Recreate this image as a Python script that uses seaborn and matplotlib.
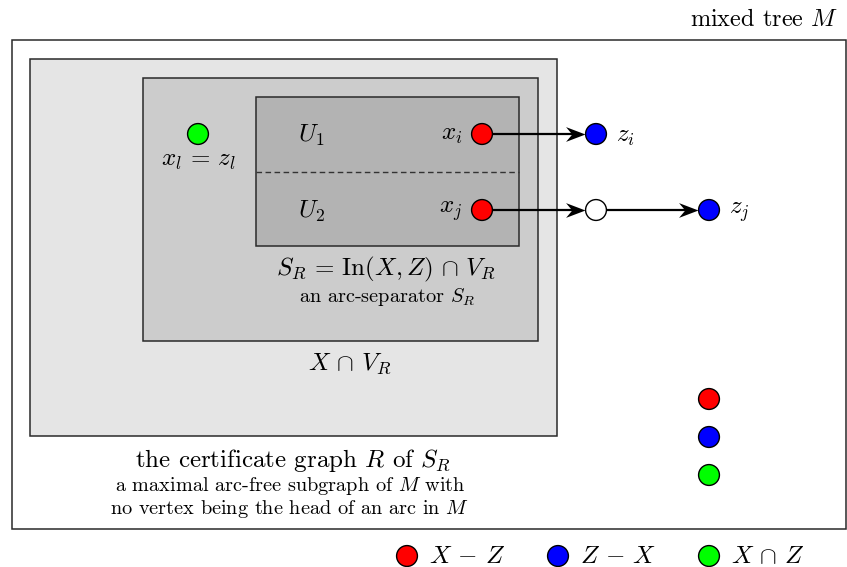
import matplotlib
matplotlib.use("Agg")
import matplotlib.pyplot as plt
import seaborn as sns
import pandas as pd
from matplotlib.patches import Rectangle
from matplotlib.path import Path

# 图中的各部分（像素坐标，y 向下）
box_names = ["mixed tree", "certificate R", "X cap V_R", "S_R"]
box_x0 = [12, 30, 143, 256]
box_y0 = [40, 59, 78, 97]
box_x1 = [846, 557, 538, 519]
box_y1 = [529, 436, 341, 246]
box_fill = ["white", "#e5e5e5", "#cccccc", "#b3b3b3"]

node_names = ["x_l", "x_i", "x_j", "z_i", "w", "z_j", "k1", "k2", "k3", "l1", "l2", "l3"]
node_x = [198, 482, 482, 596, 596, 709, 709, 709, 709, 407, 558, 709]
node_y = [134, 134, 210, 134, 210, 210, 399, 437, 475, 556, 556, 556]
node_kind = ["XZ", "X-Z", "X-Z", "Z-X", "other", "Z-X", "X-Z", "Z-X", "XZ", "X-Z", "Z-X", "XZ"]
kind_color = {"X-Z": "#ff0000", "Z-X": "#0000ff", "XZ": "#00ff00", "other": "white"}

arcs = [("x_i", "z_i"), ("x_j", "w"), ("w", "z_j")]

legend_labels = ["$X\\,-\\,Z$", "$Z\\,-\\,X$", "$X\\,\\cap\\, Z$"]

sns.set_theme(style="white")
plt.rcParams["font.family"] = ["serif"]
plt.rcParams["font.serif"] = ["cmr10", "DejaVu Serif"]
plt.rcParams["mathtext.fontset"] = "cm"
plt.rcParams["axes.unicode_minus"] = False
plt.rcParams["axes.formatter.use_mathtext"] = True
plt.rcParams["text.color"] = "black"

fig = plt.figure(figsize=(8.47, 5.67), dpi=100)
ax = fig.add_axes([0, 0, 1, 1])

for x0, y0, x1, y1, fc in zip(box_x0, box_y0, box_x1, box_y1, box_fill):
    ax.add_patch(Rectangle((x0, y0), x1 - x0, y1 - y0, facecolor=fc,
                           edgecolor="#2a2a2a", lw=1.1, zorder=1))

# U1 / U2 分隔虚线
ax.plot([box_x0[3], box_x1[3]], [172, 172], ls=(0, (4, 2.5)), color="#333333", lw=1.0, zorder=2)

df = pd.DataFrame({"name": node_names, "x": node_x, "y": node_y, "kind": node_kind})
pos = {n: (x, y) for n, x, y in zip(node_names, node_x, node_y)}

# stealth 箭头形状，尖端在原点
stealth = Path([(0, 0), (-1, 0.38), (-0.68, 0), (-1, -0.38), (0, 0)],
               [Path.MOVETO, Path.LINETO, Path.LINETO, Path.LINETO, Path.CLOSEPOLY])
r = 11
for a, b in arcs:
    (xa, ya), (xb, yb) = pos[a], pos[b]
    ax.plot([xa + r, xb - r - 8], [ya, yb], color="black", lw=1.6, zorder=3,
            solid_capstyle="butt")
    ax.plot([xb - r - 0.5], [yb], marker=stealth, markersize=28, color="black",
            markeredgewidth=0, zorder=3)

sns.scatterplot(data=df, x="x", y="y", hue="kind", palette=kind_color, s=225,
                edgecolor="black", linewidth=1.0, legend=False, zorder=4, ax=ax)
ax.set_xlim(0, 847)
ax.set_ylim(567, 0)
ax.axis("off")

big = 18
small = 14.6
ax.text(838, 20, "mixed tree $M$", ha="right", va="center", fontsize=17.5)
ax.text(198, 161, "$x_l\\,=\\,z_l$", ha="center", va="center", fontsize=big)
ax.text(311, 135, "$U_1$", ha="center", va="center", fontsize=big)
ax.text(311, 211, "$U_2$", ha="center", va="center", fontsize=big)
ax.text(462, 135, "$x_i$", ha="right", va="center", fontsize=big)
ax.text(462, 211, "$x_j$", ha="right", va="center", fontsize=big)
ax.text(616, 137, "$z_i$", ha="left", va="center", fontsize=big)
ax.text(729, 212, "$z_j$", ha="left", va="center", fontsize=big)
ax.text(386, 269, "$S_R\\,=\\,\\mathrm{In}(X, Z)\\,\\cap\\, V_R$", ha="center", va="center", fontsize=big)
ax.text(387, 297, "an arc-separator $S_R$", ha="center", va="center", fontsize=small)
ax.text(350, 364, "$X\\,\\cap\\, V_R$", ha="center", va="center", fontsize=big)
ax.text(293, 461, "the certificate graph $R$ of $S_R$", ha="center", va="center", fontsize=big)
ax.text(290, 486, "a maximal arc-free subgraph of $M$ with", ha="center", va="center", fontsize=small)
ax.text(290, 509, "no vertex being the head of an arc in $M$", ha="center", va="center", fontsize=small)

for lx, lab in zip(node_x[-3:], legend_labels):
    ax.text(lx + 22, 557, lab, ha="left", va="center", fontsize=big)

fig.savefig("out.png", dpi=100)
plt.close(fig)
